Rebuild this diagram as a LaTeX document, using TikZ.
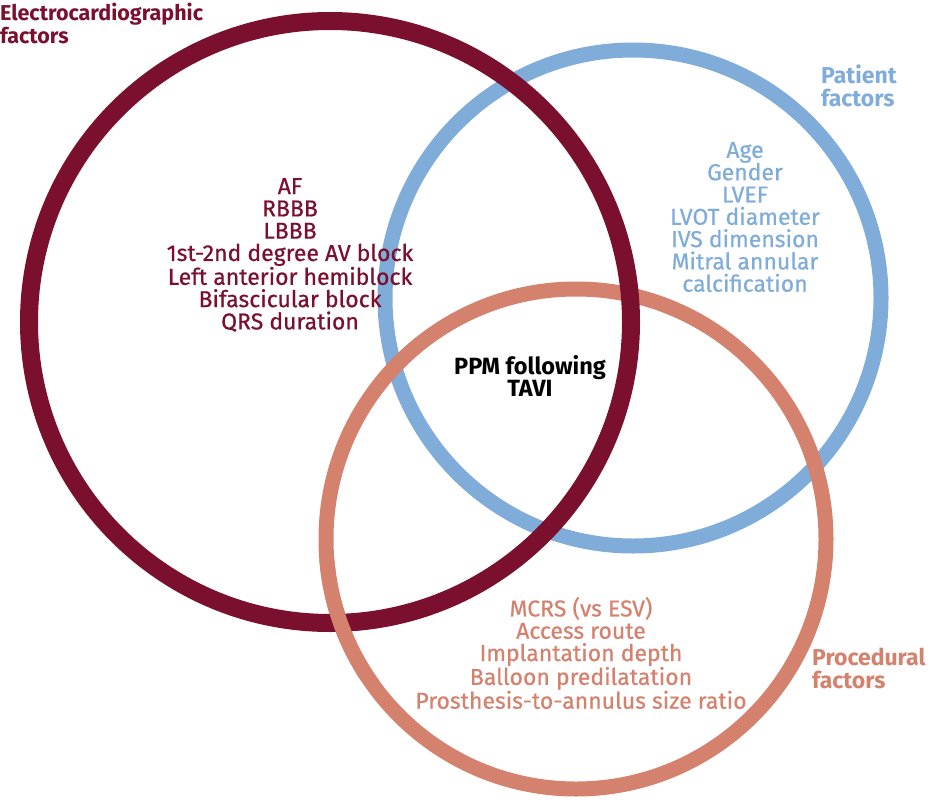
\documentclass[tikz,border=0pt]{standalone}
\usepackage{fontspec}
\setmainfont{Fira Sans}
\newfontfamily\medfont[FakeBold=0.6]{Fira Sans}
\definecolor{ecgred}{HTML}{7A0F2E}
\definecolor{patblue}{HTML}{80ACDA}
\definecolor{procsalmon}{HTML}{D4826E}
\tikzset{
  ring/.style={draw, line width=#1},
  listtext/.style={align=center, inner sep=0pt, font=\medfont\fontsize{23}{22.3}\selectfont},
  headtext/.style={align=left, inner sep=0pt, font=\bfseries\fontsize{23}{23}\selectfont},
}
\begin{document}
\begin{tikzpicture}[x=1pt,y=-1pt]
\useasboundingbox (0,0) rectangle (932,803);
% circles
\draw[ring=15pt, patblue] (633,298) circle (248);
\draw[ring=15pt, procsalmon] (576,539) circle (250);
\draw[ring=18pt, ecgred] (330,322) circle (301);
% salmon passes over the red ring at the lower left crossing
\begin{scope}
\clip (280,560) rectangle (400,680);
\draw[ring=15pt, procsalmon] (576,539) circle (250);
\end{scope}
% headings
\node[headtext, text=ecgred, anchor=north west, font=\bfseries\fontsize{21.5}{23}\selectfont] (ecghead) at (0,3) {Electrocardiographic\\factors};
\node[headtext, text=patblue, anchor=north west] (pathead) at (821,65) {Patient\\factors};
\node[headtext, text=procsalmon, anchor=north west] (prochead) at (812,648) {Procedural\\factors};
% lists
\node[listtext, text=ecgred] (ecglist) at (290,255) {AF\\RBBB\\LBBB\\1st-2nd degree AV block\\Left anterior hemiblock\\Bifascicular block\\QRS duration};
\node[listtext, text=patblue] (patlist) at (745,217) {Age\\Gender\\LVEF\\LVOT diameter\\IVS dimension\\Mitral annular\\calcification};
\node[listtext, text=procsalmon] (proclist) at (581,653) {MCRS (vs ESV)\\Access route\\Implantation depth\\Balloon predilatation\\Prosthesis-to-annulus size ratio};
% centre
\node[align=center, inner sep=0pt, font=\bfseries\fontsize{23.5}{22.3}\selectfont] (ppm) at (530,376) {PPM following\\TAVI};
\end{tikzpicture}
\end{document}
